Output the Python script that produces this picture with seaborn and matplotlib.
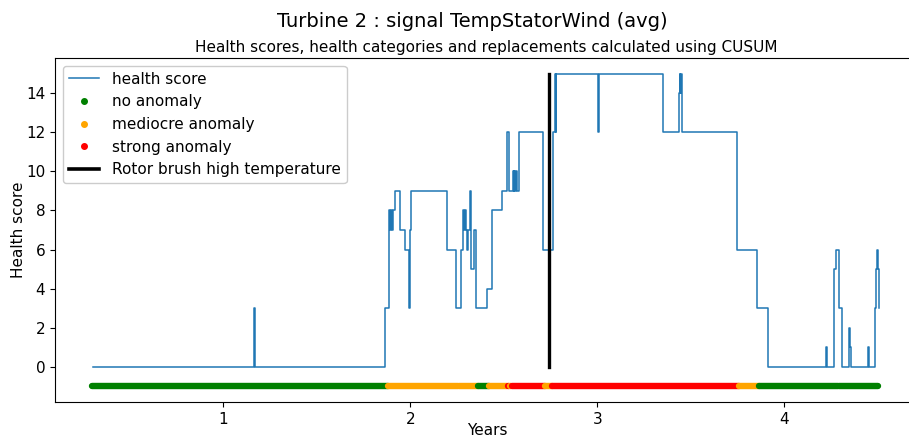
import matplotlib
matplotlib.use("Agg")
import matplotlib.pyplot as plt
from matplotlib.lines import Line2D
import pandas as pd
import seaborn as sns

# Health score (CUSUM based); each score holds from its start year until the next one
score_years = [
    0.302, 1.166, 1.170, 1.862, 1.885, 1.892, 1.897, 1.902, 1.906, 1.915,
    1.944, 1.971, 1.990, 1.997, 2.002, 2.197, 2.243, 2.272, 2.281, 2.287,
    2.291, 2.297, 2.305, 2.309, 2.320, 2.326, 2.341, 2.348, 2.407, 2.434,
    2.489, 2.517, 2.527, 2.547, 2.552, 2.556, 2.560, 2.565, 2.570, 2.580,
    2.707, 2.760, 2.774, 2.777, 2.780, 3.001, 3.008, 3.349, 3.437, 3.441,
    3.444, 3.447, 3.455, 3.746, 3.855, 3.910, 4.224, 4.228, 4.267, 4.274,
    4.292, 4.309, 4.345, 4.348, 4.351, 4.354, 4.445, 4.455, 4.483, 4.492,
    4.497, 4.501, 4.504, 4.507,
]
score_values = [
    0, 3, 0, 3, 8, 7, 8, 7, 8, 9,
    7, 6, 3, 7, 9, 6, 3, 6, 8, 7,
    8, 7, 6, 7, 9, 5, 7, 3, 4, 8,
    9, 12, 9, 10, 9, 10, 9, 10, 9, 12,
    6, 12, 15, 12, 15, 12, 15, 12, 14, 15,
    14, 15, 12, 6, 3, 0, 1, 0, 5, 6,
    3, 0, 1, 2, 1, 0, 1, 0, 3, 5,
    6, 5, 3, 3,
]

# Health category periods (start year, end year, category)
cat_start = [0.295, 1.882, 2.256, 2.260, 2.360, 2.420, 2.524, 2.530, 2.544, 2.720,
             2.756, 3.757, 3.865, 4.288, 4.292, 4.505]
cat_end = [1.882, 2.254, 2.257, 2.360, 2.420, 2.515, 2.525, 2.540, 2.720, 2.756,
           3.757, 3.865, 4.286, 4.289, 4.503, 4.506]
cat_label = ["no anomaly", "mediocre anomaly", "no anomaly", "mediocre anomaly",
             "no anomaly", "mediocre anomaly", "strong anomaly", "mediocre anomaly",
             "strong anomaly", "mediocre anomaly", "strong anomaly",
             "mediocre anomaly", "no anomaly", "mediocre anomaly", "no anomaly",
             "mediocre anomaly"]
cat_names = ["no anomaly", "mediocre anomaly", "strong anomaly"]
cat_colors = {"no anomaly": "green", "mediocre anomaly": "orange", "strong anomaly": "red"}
cat_level = -1

# Replacement / failure event
event_name = "Rotor brush high temperature"
event_year = 2.741
event_span = [0, 15]

xticks = [1, 2, 3, 4]
yticks = [0, 2, 4, 6, 8, 10, 12, 14]

plt.rcParams["font.family"] = ["DejaVu Sans"]
FS = 11

fig = plt.figure(figsize=(9.09, 4.38), dpi=100)
ax = fig.add_axes([55 / 909, 1 - 402 / 438, 864 / 909, 344 / 438])

df = pd.DataFrame({"year": score_years, "score": score_values})
sns.lineplot(data=df, x="year", y="score", ax=ax, drawstyle="steps-post",
             color="#1f77b4", linewidth=1.1, label="health score", legend=False)

for s, e, c in zip(cat_start, cat_end, cat_label):
    ax.plot([s, e], [cat_level, cat_level], color=cat_colors[c], linewidth=4.6,
            solid_capstyle="round", zorder=3)

ax.plot([event_year, event_year], event_span, color="black", linewidth=2.4, zorder=4)

ax.set_xlim(0.099, 4.72)
ax.set_ylim(-1.8, 15.8)
ax.set_xticks(xticks)
ax.set_yticks(yticks)
ax.tick_params(labelsize=FS)
ax.spines["right"].set_visible(False)
ax.set_xlabel("Years", fontsize=FS, labelpad=-3)
ax.set_ylabel("Health score", fontsize=FS, labelpad=0)
ax.set_title("Health scores, health categories and replacements calculated using CUSUM",
             fontsize=FS, x=(486 - 55) / 864, pad=4)
fig.suptitle("Turbine 2 : signal TempStatorWind (avg)", fontsize=14, x=472 / 909, y=0.972)

handles = [Line2D([], [], color="#1f77b4", linewidth=1.1, label="health score")]
for name in cat_names:
    handles.append(Line2D([], [], linestyle="none", marker="o", markersize=4,
                          color=cat_colors[name], label=name))
handles.append(Line2D([], [], color="black", linewidth=2.6, label=event_name))
ax.legend(handles=handles, loc="upper left", fontsize=FS, framealpha=1,
          borderaxespad=0.5)

fig.savefig("out.png", dpi=100)
